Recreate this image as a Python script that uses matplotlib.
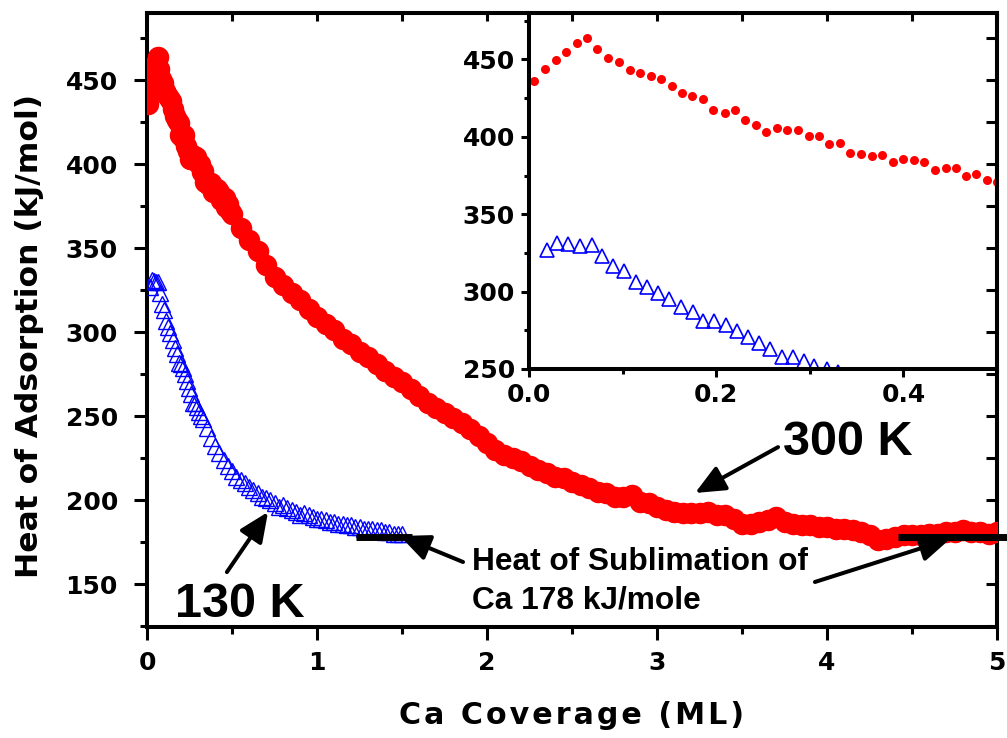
import matplotlib
matplotlib.use("Agg")
import matplotlib.pyplot as plt
from matplotlib.ticker import MultipleLocator, NullFormatter

plt.rcParams['font.family'] = ['DejaVu Sans']
plt.rcParams['font.weight'] = 'bold'

# ---------------- data ----------------
# 300 K (red, filled circles)
red_x = [0.005, 0.017, 0.029, 0.040, 0.051, 0.062, 0.073, 0.084, 0.096, 0.108,
         0.119, 0.130, 0.141, 0.153, 0.163, 0.174, 0.186, 0.197, 0.209, 0.220,
         0.231, 0.242, 0.253, 0.265, 0.276, 0.287, 0.299, 0.310, 0.321, 0.332,
         0.343, 0.355, 0.366, 0.377, 0.389, 0.400, 0.411, 0.422, 0.434, 0.445,
         0.456, 0.467, 0.478, 0.489, 0.500,
         0.55, 0.60, 0.65, 0.70, 0.75, 0.80, 0.85, 0.90, 0.95, 1.00,
         1.05, 1.10, 1.15, 1.20, 1.25, 1.30, 1.35, 1.40, 1.45, 1.50,
         1.55, 1.60, 1.65, 1.70, 1.75, 1.80, 1.85, 1.90, 1.95, 2.00,
         2.05, 2.10, 2.15, 2.20, 2.25, 2.30, 2.35, 2.40, 2.45, 2.50,
         2.55, 2.60, 2.65, 2.70, 2.75, 2.80, 2.85, 2.90, 2.95, 3.00,
         3.05, 3.10, 3.15, 3.20, 3.25, 3.30, 3.35, 3.40, 3.45, 3.50,
         3.55, 3.60, 3.65, 3.70, 3.75, 3.80, 3.85, 3.90, 3.95, 4.00,
         4.05, 4.10, 4.15, 4.20, 4.25, 4.30, 4.35, 4.40, 4.45, 4.50,
         4.55, 4.60, 4.65, 4.70, 4.75, 4.80, 4.85, 4.90, 4.95, 5.00]
red_y = [435.9, 444.1, 449.5, 454.7, 460.5, 463.8, 456.6, 450.8, 448.2, 443.3,
         441.1, 439.2, 437.4, 432.9, 428.6, 426.4, 424.3, 417.4, 415.7, 417.6,
         411.1, 407.7, 403.2, 405.5, 404.7, 404.4, 400.6, 400.3, 395.4, 395.8,
         389.6, 388.9, 387.8, 388.5, 383.7, 385.5, 385.0, 383.5, 378.8, 379.9,
         379.9, 374.7, 376.2, 372.1, 370.6,
         362, 355, 348, 340, 333, 328, 323, 319, 314, 309,
         305, 301, 296, 293, 288, 285, 281, 277, 273, 270,
         266, 262, 258, 255, 252, 249, 246, 242, 238, 234,
         230, 227, 225, 223, 220, 218, 216, 214, 213, 211,
         209, 207, 205, 204, 202, 202, 203, 199, 198, 196,
         194, 193, 192, 192, 192, 193, 191, 191, 189, 186,
         186, 187, 188, 190, 187, 186, 185, 185, 184, 184,
         183, 183, 182, 181, 179, 176, 177, 178, 179, 179,
         179, 180, 180, 181, 181, 182, 181, 181, 180, 181]

# 130 K (blue, open triangles)
blue_x = [0.019, 0.030, 0.042, 0.055, 0.067, 0.078, 0.090, 0.102, 0.114, 0.126,
          0.138, 0.150, 0.162, 0.175, 0.186, 0.198, 0.210, 0.222, 0.234, 0.246,
          0.257, 0.270, 0.282, 0.294, 0.305, 0.318,
          0.33, 0.35, 0.375, 0.40, 0.425, 0.45, 0.475, 0.50, 0.525, 0.55,
          0.575, 0.60, 0.625, 0.65, 0.675, 0.70, 0.725, 0.75, 0.775, 0.80,
          0.825, 0.85, 0.875, 0.90, 0.925, 0.95, 0.975, 1.00, 1.025, 1.05,
          1.075, 1.10, 1.125, 1.15, 1.175, 1.20, 1.225, 1.25, 1.275, 1.30,
          1.325, 1.35, 1.375, 1.40, 1.425, 1.45, 1.475, 1.50]
blue_y = [326.6, 331.3, 330.7, 329.6, 329.8, 323.3, 316.7, 313.0, 306.5, 303.3,
          299.4, 295.3, 290.3, 286.9, 281.3, 280.8, 278.5, 274.8, 270.9, 266.6,
          262.9, 257.8, 258.0, 255.4, 252.2, 250.0,
          248, 243, 237, 232, 228, 224, 220, 217, 214, 212,
          210, 208, 206, 204, 202, 201, 200, 198, 196, 197,
          195, 194, 193, 191, 192, 191, 190, 189, 189, 188,
          187, 187, 186, 186, 185, 185, 184, 184, 183, 183,
          183, 182, 182, 181, 181, 180, 180, 180]

sublimation_heat = 178
sub_segments = [(1.23, 1.56), (4.42, 5.06)]

label_300 = "300 K"
label_130 = "130 K"
sub_text_1 = "Heat of Sublimation of"
sub_text_2 = "Ca 178 kJ/mole"
x_label = "Ca Coverage (ML)"
y_label = "Heat of Adsorption (kJ/mol)"

RED = '#ff0000'
BLUE = '#0000ff'
SPINE_W = 2.9
TICK_W = 2.2

# ---------------- figure ----------------
W, H = 1007, 738
fig = plt.figure(figsize=(W / 100, H / 100), dpi=100)
fig.patch.set_facecolor('white')

L, R, B, T = 147 / W, 997 / W, 1 - 627 / H, 1 - 13 / H
ax = fig.add_axes([L, B, R - L, T - B])
ax.set_zorder(3)
ax.patch.set_visible(False)

ins = fig.add_axes([529 / W, 1 - 369 / H, (997 - 529) / W, (369 - 13) / H])
ins.set_zorder(2)
ins.set_facecolor('white')

# main plot data
ax.plot(red_x, red_y, 'o', color=RED, ms=15.5, mec='none', zorder=3)
ax.plot(blue_x, blue_y, '^', mfc='none', mec=BLUE, ms=11, mew=1.0, zorder=3)

ax.set_xlim(0, 5)
ax.set_ylim(124.4, 490)
ax.xaxis.set_major_locator(MultipleLocator(1))
ax.xaxis.set_minor_locator(MultipleLocator(0.5))
ax.yaxis.set_major_locator(MultipleLocator(50))
ax.yaxis.set_minor_locator(MultipleLocator(25))
ax.tick_params(which='major', direction='out', length=9.4, width=TICK_W,
               labelsize=18, top=False, right=False)
ax.tick_params(which='minor', direction='out', length=5, width=TICK_W,
               top=False, right=False)
ax.tick_params(axis='x', which='major', pad=8)
ax.tick_params(axis='y', which='major', pad=11.5)
for s in ax.spines.values():
    s.set_linewidth(SPINE_W)

# inward ticks on top and right
secx = ax.secondary_xaxis('top')
secx.xaxis.set_major_locator(MultipleLocator(0.5))
secx.xaxis.set_major_formatter(NullFormatter())
secx.tick_params(direction='in', length=6, width=TICK_W)
secx.spines['top'].set_linewidth(SPINE_W)
secy = ax.secondary_yaxis('right')
secy.yaxis.set_major_locator(MultipleLocator(25))
secy.yaxis.set_major_formatter(NullFormatter())
secy.tick_params(direction='in', length=8, width=TICK_W)
secy.spines['right'].set_linewidth(SPINE_W)

# axis labels
ax.set_xlabel("\u200a".join(x_label), fontsize=21.7, fontweight='bold', va='center')
ax.xaxis.set_label_coords(0.5, -(716 - 627) / 614)
ax.set_ylabel(y_label, fontsize=22.6, fontweight='bold', va='center', ha='center')
ax.yaxis.set_label_coords((30 - 147) / 850, (627 - 336) / 614)

# sublimation lines
for x0, x1 in sub_segments:
    ax.plot([x0, x1], [sublimation_heat, sublimation_heat], color='k', lw=5,
            solid_capstyle='butt', clip_on=False, zorder=4)

arrow_style = dict(arrowstyle='-|>,head_length=0.9,head_width=0.4', mutation_scale=20,
                   lw=2.9, color='k', shrinkA=0, shrinkB=0)
ax.annotate('', xy=(1.488, 178.6), xytext=(1.859, 163.1), arrowprops=arrow_style, zorder=5)
ax.annotate('', xy=(4.724, 176.8), xytext=(3.929, 151.2), arrowprops=arrow_style, zorder=5)
ax.annotate('', xy=(3.224, 204.2), xytext=(3.712, 231.5), arrowprops=arrow_style, zorder=5)
ax.annotate('', xy=(0.712, 192.9), xytext=(0.47, 157.1), arrowprops=arrow_style, zorder=5)

big_font = dict(fontsize=35, fontweight='bold', family=['Liberation Sans', 'DejaVu Sans'])
ax.text(4.124, 226.8, label_300, ha='center', va='baseline', **big_font)
ax.text(0.547, 130.4, label_130, ha='center', va='baseline', **big_font)
sub_font = dict(fontsize=22.8, fontweight='bold', family=['Liberation Sans', 'DejaVu Sans'])
ax.text(1.912, 158.3, sub_text_1, ha='left', va='baseline', **sub_font)
ax.text(1.912, 135.7, sub_text_2, ha='left', va='baseline', **sub_font)

# ---------------- inset ----------------
ins.plot(red_x, red_y, 'o', color=RED, ms=6.5, mec='none')
ins.plot(blue_x, blue_y, '^', mfc='none', mec=BLUE, ms=9.5, mew=1.2)
ins.set_xlim(0, 0.5)
ins.set_ylim(250, 480)
ins.xaxis.set_major_locator(MultipleLocator(0.2))
ins.xaxis.set_minor_locator(MultipleLocator(0.1))
ins.yaxis.set_major_locator(MultipleLocator(50))
ins.yaxis.set_minor_locator(MultipleLocator(25))
ins.tick_params(which='major', direction='out', length=5.8, width=TICK_W,
                labelsize=18, top=False, right=False)
ins.tick_params(which='minor', direction='out', length=3.6, width=TICK_W,
                top=False, right=False)
ins.tick_params(axis='x', which='major', pad=4)
ins.tick_params(axis='y', which='major', pad=4.3)
for side in ('left', 'bottom'):
    ins.spines[side].set_linewidth(SPINE_W)
for side in ('top', 'right'):
    ins.spines[side].set_visible(False)

fig.savefig('out.png', dpi=100, facecolor='white')
